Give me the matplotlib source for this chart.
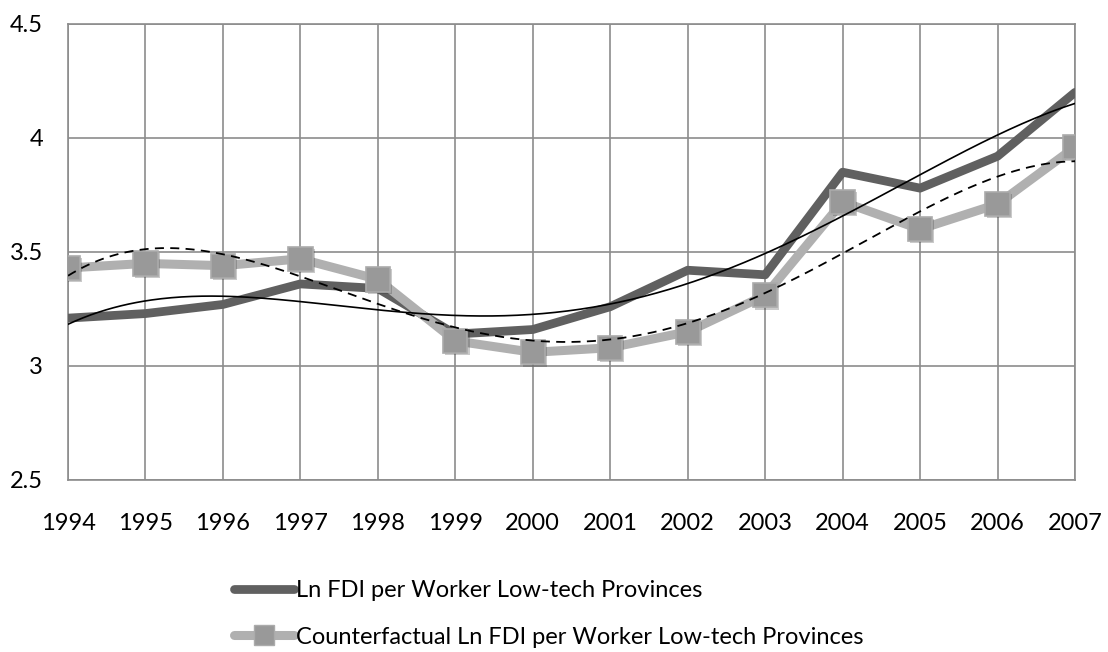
import numpy as np
import matplotlib
matplotlib.use("Agg")
import matplotlib.pyplot as plt
from matplotlib.lines import Line2D
from matplotlib import patheffects as pe

years = [1994, 1995, 1996, 1997, 1998, 1999, 2000, 2001, 2002, 2003, 2004, 2005, 2006, 2007]
ln_fdi = [3.21, 3.23, 3.27, 3.36, 3.34, 3.14, 3.16, 3.26, 3.42, 3.40, 3.85, 3.78, 3.92, 4.20]
counterfactual = [3.43, 3.45, 3.44, 3.47, 3.38, 3.11, 3.06, 3.08, 3.15, 3.31, 3.72, 3.60, 3.71, 3.96]
y_ticks = [2.5, 3, 3.5, 4, 4.5]
y_tick_labels = ["2.5", "3", "3.5", "4", "4.5"]
series_labels = ["Ln FDI per Worker Low-tech Provinces",
                 "Counterfactual Ln FDI per Worker Low-tech Provinces"]
trend_order = 4

plt.rcParams['font.family'] = ['Lato', 'DejaVu Sans']

W, H = 1108, 652
fig = plt.figure(figsize=(W / 100, H / 100), dpi=100)
ax = fig.add_axes([68 / W, 1 - 480 / H, (1075 - 68) / W, (480 - 24) / H])

x = np.array(years, dtype=float)
xf = np.linspace(x[0], x[-1], 400)

ax.plot(x, ln_fdi, color='#606060', lw=6.3, solid_capstyle='round',
        solid_joinstyle='round', zorder=3)
ax.plot(x, counterfactual, color='#b0b0b0', lw=6.5, solid_capstyle='round',
        solid_joinstyle='miter', zorder=4)
ax.plot(x, counterfactual, ls='none', marker='s', ms=17.5, mfc='#999999',
        mec='#ababab', mew=1.2, zorder=5,
        path_effects=[pe.SimplePatchShadow(offset=(1.5, -1.5), alpha=0.25), pe.Normal()])

# polynomial trendlines (as produced by the spreadsheet)
p1 = np.polyfit(x - x[0], ln_fdi, trend_order)
p2 = np.polyfit(x - x[0], counterfactual, trend_order)
ax.plot(xf, np.polyval(p1, xf - x[0]), color='black', lw=1.2, zorder=6)
ax.plot(xf, np.polyval(p2, xf - x[0]), color='black', lw=1.3, ls=(0, (5, 3.5)), zorder=6)

ax.set_xlim(x[0], x[-1])
ax.set_ylim(2.5, 4.5)
ax.set_xticks(x)
ax.set_xticklabels([str(v) for v in years])
ax.set_yticks(y_ticks)
ax.set_yticklabels(y_tick_labels)
ax.tick_params(length=0, labelsize=17, colors='black')
ax.tick_params(axis='x', pad=24)
ax.tick_params(axis='y', pad=18)
ax.grid(True, color='#8c8c8c', lw=1.2, zorder=1)
ax.set_axisbelow(True)
for s in ax.spines.values():
    s.set_color('#8c8c8c')
    s.set_linewidth(1.2)

h1 = Line2D([], [], color='#606060', lw=6.3, solid_capstyle='round')
h2 = Line2D([], [], color='#b0b0b0', lw=6.5, solid_capstyle='round', marker='s',
            ms=14, mfc='#999999', mec='#ababab')
fig.legend([h1, h2], series_labels, loc='upper left',
           bbox_to_anchor=(234 / W, 1 - 580 / H), frameon=False, fontsize=17,
           handlelength=2.55, handletextpad=0.08, labelspacing=1.08, borderpad=0,
           borderaxespad=0)

fig.savefig('out.png', dpi=100)
